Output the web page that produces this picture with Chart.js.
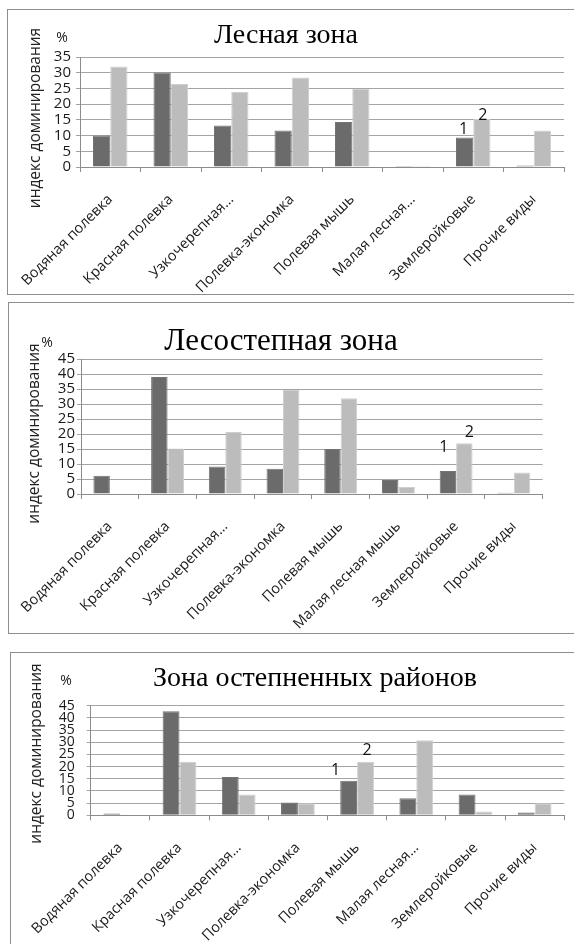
<!DOCTYPE html>
<html>
<head>
<meta charset="utf-8">
<script src="https://cdn.jsdelivr.net/npm/chart.js@4.4.1/dist/chart.umd.min.js"></script>
<style>
  html, body { margin: 0; padding: 0; background: #fff; width: 574px; height: 944px; overflow: hidden; }
  .frame { position: absolute; border: 1px solid #8e8e8e; box-sizing: border-box; }
  canvas { position: absolute; left: 0; }
</style>
</head>
<body>
<div class="frame" style="left:7px; top:9px; width:620px; height:286px"></div>
<div class="frame" style="left:8px; top:302px; width:620px; height:332px"></div>
<div class="frame" style="left:10px; top:652px; width:620px; height:330px"></div>
<canvas id="forest" width="574" height="300" style="top:0px"></canvas>
<canvas id="steppe" width="574" height="340" style="top:300px"></canvas>
<canvas id="steppified" width="574" height="304" style="top:640px"></canvas>
<script>
// Species groups (axis labels as printed under each panel)
const speciesShort = ['Водяная полевка', 'Красная полевка', 'Узкочерепная…', 'Полевка-экономка',
                      'Полевая мышь', 'Малая лесная…', 'Землеройковые', 'Прочие виды'];
const speciesFull  = ['Водяная полевка', 'Красная полевка', 'Узкочерепная…', 'Полевка-экономка',
                      'Полевая мышь', 'Малая лесная мышь', 'Землеройковые', 'Прочие виды'];

// Dominance index, %: series 1 and series 2 for each zone
const forest1     = [10.0, 30.1, 13.2, 11.6, 14.3, 0.3, 9.4, 0.5];
const forest2     = [32.0, 26.4, 23.9, 28.5, 24.9, 0.3, 15.3, 11.6];
const steppe1     = [6.1, 39.0, 9.2, 8.4, 15.0, 4.7, 7.7, 0.4];
const steppe2     = [0, 15.2, 20.7, 34.7, 31.9, 2.3, 16.9, 7.2];
const steppified1 = [0.7, 42.7, 15.7, 5.3, 14.2, 7.0, 8.5, 1.2];
const steppified2 = [0, 22.0, 8.5, 4.9, 22.0, 30.8, 1.6, 4.9];

const seriesNames = ['1', '2'];
const yTitle = 'индекс доминирования';
const unitLabel = '%';

const DARK = '#6b6b6b';
const LIGHT = '#bcbcbc';
const GRID = '#a4a4a4';
const AXIS = '#8c8c8c';
const SANS = '"Open Sans", "DejaVu Sans", sans-serif';
const SERIF = '"Liberation Serif", "Times New Roman", serif';

// Draws the zone heading, the unit mark, the rotated axis caption and the series tags.
const panelDecor = {
  id: 'panelDecor',
  afterDraw(chart, args, o) {
    const ctx = chart.ctx;
    const area = chart.chartArea;
    ctx.save();
    ctx.fillStyle = '#000';
    ctx.textAlign = 'center';
    ctx.textBaseline = 'alphabetic';
    ctx.font = o.titleSize + 'px ' + SERIF;
    ctx.fillText(o.title, o.titleX, o.titleY);

    ctx.fillStyle = '#222';
    ctx.textBaseline = 'middle';
    ctx.font = '14px ' + SANS;
    ctx.fillText(unitLabel, o.unitX, o.unitY);

    ctx.save();
    ctx.translate(o.yTitleX, (area.top + area.bottom) / 2 + o.yTitleShift);
    ctx.rotate(-Math.PI / 2);
    ctx.font = '15.5px ' + SANS;
    ctx.fillStyle = '#222';
    ctx.fillText(yTitle, 0, 0);
    ctx.restore();

    ctx.font = '16px ' + SANS;
    ctx.fillStyle = '#111';
    chart.data.datasets.forEach((ds, i) => {
      const bar = chart.getDatasetMeta(i).data[o.tagIndex];
      ctx.fillText(ds.label, bar.x + o.tagDx[i], bar.y + o.tagDy[i]);
    });
    ctx.restore();
  }
};

function makeChart(id, labels, s1, s2, box, decor) {
  new Chart(document.getElementById(id), {
    type: 'bar',
    data: {
      labels: labels,
      datasets: [
        { label: seriesNames[0], data: s1, backgroundColor: DARK, borderColor: '#737373', borderWidth: 1,
          categoryPercentage: 0.57, barPercentage: 1.0 },
        { label: seriesNames[1], data: s2, backgroundColor: LIGHT, borderColor: '#cfcfcf', borderWidth: 1,
          categoryPercentage: 0.57, barPercentage: 1.0 }
      ]
    },
    options: {
      responsive: false,
      animation: false,
      devicePixelRatio: 1,
      layout: { padding: { left: 0, top: box.top, right: box.right, bottom: 0 } },
      plugins: {
        legend: { display: false },
        title: { display: false },
        tooltip: { enabled: false },
        panelDecor: decor
      },
      scales: {
        x: {
          afterFit(s) { s.height = box.xH; },
          grid: { display: true, drawOnChartArea: false, drawTicks: true, tickLength: 5, color: AXIS, offset: true },
          border: { display: true, color: AXIS, width: 1 },
          ticks: {
            autoSkip: false, minRotation: 45, maxRotation: 45, padding: box.xPad,
            color: '#1a1a1a', font: { family: SANS, size: 14.5 }
          }
        },
        y: {
          min: 0, max: box.max,
          afterFit(s) { s.width = box.yW; },
          grid: { color: GRID, lineWidth: 1, drawTicks: true, tickLength: 4 },
          border: { display: true, color: AXIS, width: 1 },
          ticks: {
            stepSize: 5, autoSkip: false, padding: box.yPad,
            color: '#1a1a1a', font: { family: SANS, size: box.tickSize, lineHeight: 1 }
          }
        }
      }
    },
    plugins: [panelDecor]
  });
}

makeChart('forest', speciesShort, forest1, forest2,
  { top: 57, right: 10, xH: 133, yW: 80, max: 35, xPad: 19, yPad: 5, tickSize: 15 },
  { title: 'Лесная зона', titleSize: 28, titleX: 286, titleY: 43, unitX: 62, unitY: 38,
    yTitleX: 36, yTitleShift: 6, tagIndex: 6, tagDx: [-1, 1], tagDy: [-8, -3] });

makeChart('steppe', speciesFull, steppe1, steppe2,
  { top: 59, right: 31.3, xH: 146, yW: 79, max: 45, xPad: 19, yPad: 2, tickSize: 15 },
  { title: 'Лесостепная зона', titleSize: 31, titleX: 281, titleY: 50, unitX: 47, unitY: 43,
    yTitleX: 35, yTitleShift: 7, tagIndex: 6, tagDx: [-4, 5], tagDy: [-23, -11] });

makeChart('steppified', speciesShort, steppified1, steppified2,
  { top: 65.7, right: 9.7, xH: 128.7, yW: 90.7, max: 45, xPad: 19, yPad: 12, tickSize: 14 },
  { title: 'Зона остепненных районов', titleSize: 28, titleX: 315, titleY: 46, unitX: 66, unitY: 41,
    yTitleX: 36.5, yTitleShift: -7, tagIndex: 4, tagDx: [-13, 1.5], tagDy: [-10, -11] });
</script>
</body>
</html>
